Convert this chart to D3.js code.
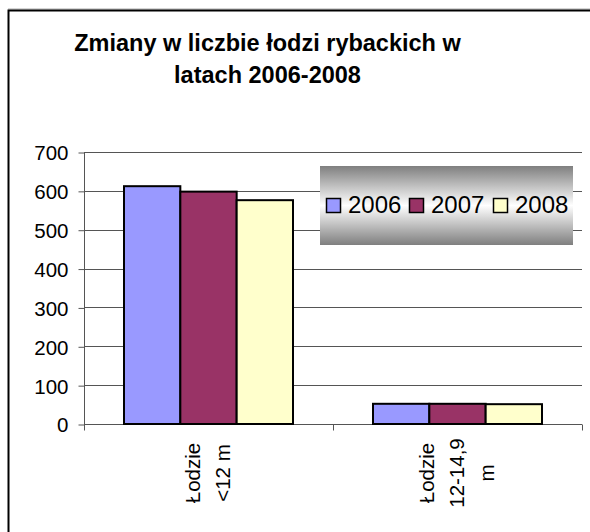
<!DOCTYPE html>
<html>
<head>
<meta charset="utf-8">
<script src="https://cdn.jsdelivr.net/npm/d3@7"></script>
<style>
  body { margin: 0; background: #fff; }
  svg { display: block; font-family: "Liberation Sans", Arial, sans-serif; }
</style>
</head>
<body>
<svg width="590" height="532"></svg>
<script>
// data
const categories = [["Łodzie", "<12 m"], ["Łodzie", "12-14,9", "m"]];
const years = ["2006", "2007", "2008"];
const values2006 = [612, 52];
const values2007 = [598, 52];
const values2008 = [576, 51];
const yTicks = [0, 100, 200, 300, 400, 500, 600, 700];
const colors = ["#9999ff", "#993366", "#ffffcc"];

const series = [values2006, values2007, values2008];

const svg = d3.select("svg");

// chart frame (cropped at right and bottom)
svg.append("line").attr("x1", 8).attr("x2", 590).attr("y1", 9).attr("y2", 9)
  .attr("stroke", "#aaa").attr("stroke-width", 1);
svg.append("path").attr("d", "M8.5,532V10.5H590")
  .attr("fill", "none").attr("stroke", "#000").attr("stroke-width", 2);

// title
const title = svg.append("text")
  .attr("text-anchor", "middle")
  .attr("font-weight", "bold").attr("font-size", 23.5);
title.append("tspan").attr("x", 267.5).attr("y", 51).text("Zmiany w liczbie łodzi rybackich w");
title.append("tspan").attr("x", 267.5).attr("y", 83).text("latach 2006-2008");

// scales
const pLeft = 84, pRight = 582, pTop = 152, pBottom = 424;
const x = d3.scaleBand().domain(d3.range(categories.length)).range([pLeft, pRight]);
const xInner = d3.scaleBand().domain(d3.range(years.length)).range([0, 169]);
const y = d3.scaleLinear().domain([0, 700]).range([pBottom, pTop]);

// grid
svg.append("g").selectAll("line").data(yTicks.filter(d => d > 0)).enter()
  .append("line")
  .attr("x1", pLeft).attr("x2", pRight)
  .attr("y1", d => Math.round(y(d)) + 0.5).attr("y2", d => Math.round(y(d)) + 0.5)
  .attr("stroke", "#555").attr("stroke-width", 1);

// y axis
const yAxis = svg.append("g")
  .attr("transform", `translate(${pLeft + 0.5},0.5)`)
  .call(d3.axisLeft(y).tickValues(yTicks).tickSize(6).tickPadding(10));
yAxis.select(".domain").attr("stroke", "#555").attr("d", `M0,${pTop}V${pBottom}`);
yAxis.selectAll(".tick line").attr("stroke", "#555");
yAxis.selectAll("text").attr("font-size", 20.5).attr("fill", "#000")
  .attr("font-family", "Liberation Sans, Arial, sans-serif").attr("dy", "0.36em");

// x axis
const xAxis = svg.append("g").attr("transform", `translate(0,${pBottom + 0.5})`);
xAxis.append("line").attr("x1", pLeft).attr("x2", pRight).attr("stroke", "#555");
xAxis.selectAll(".tk").data([pLeft, (pLeft + pRight) / 2, pRight]).enter()
  .append("line")
  .attr("x1", d => Math.round(d) + 0.5).attr("x2", d => Math.round(d) + 0.5)
  .attr("y1", 0).attr("y2", 6).attr("stroke", "#555");

// bars
const groups = svg.append("g").selectAll("g").data(categories).enter()
  .append("g")
  .attr("transform", (d, i) => `translate(${x(i) + x.bandwidth() / 2 - 84.5},0)`);
groups.selectAll("rect")
  .data((d, i) => series.map((s, j) => ({ v: s[i], j })))
  .enter().append("rect")
  .attr("x", d => xInner(d.j))
  .attr("width", xInner.bandwidth())
  .attr("y", d => y(d.v))
  .attr("height", d => pBottom - y(d.v))
  .attr("fill", d => colors[d.j])
  .attr("stroke", "#000").attr("stroke-width", 2);

// category labels, rotated
categories.forEach((lines, i) => {
  const cx = x(i) + x.bandwidth() / 2;
  const cy = 473;
  const n = lines.length;
  lines.forEach((t, k) => {
    const bx = cx + (k - (n - 1) / 2) * 30 + 6.5;
    svg.append("text")
      .attr("transform", `translate(${bx},${cy}) rotate(-90)`)
      .attr("text-anchor", "middle")
      .attr("font-size", 20.5)
      .text(t);
  });
});

// legend
const defs = svg.append("defs");
const grad = defs.append("linearGradient").attr("id", "lg")
  .attr("x1", 0).attr("x2", 0).attr("y1", 0).attr("y2", 1);
grad.append("stop").attr("offset", "0%").attr("stop-color", "#7f7f7f");
grad.append("stop").attr("offset", "50%").attr("stop-color", "#ffffff");
grad.append("stop").attr("offset", "100%").attr("stop-color", "#7f7f7f");

const legend = svg.append("g").attr("transform", "translate(320,166)");
legend.append("rect").attr("width", 253).attr("height", 79).attr("fill", "url(#lg)");
const legendX = [6, 89, 173];
const items = legend.selectAll(".item").data(years).enter().append("g")
  .attr("transform", (d, i) => `translate(${legendX[i]},0)`);
items.append("rect")
  .attr("x", 0.5).attr("y", 32.5).attr("width", 14).attr("height", 14)
  .attr("fill", (d, i) => colors[i]).attr("stroke", "#000").attr("stroke-width", 1.5);
items.append("text")
  .attr("x", 22).attr("y", 47).attr("font-size", 24).text(d => d);
</script>
</body>
</html>
